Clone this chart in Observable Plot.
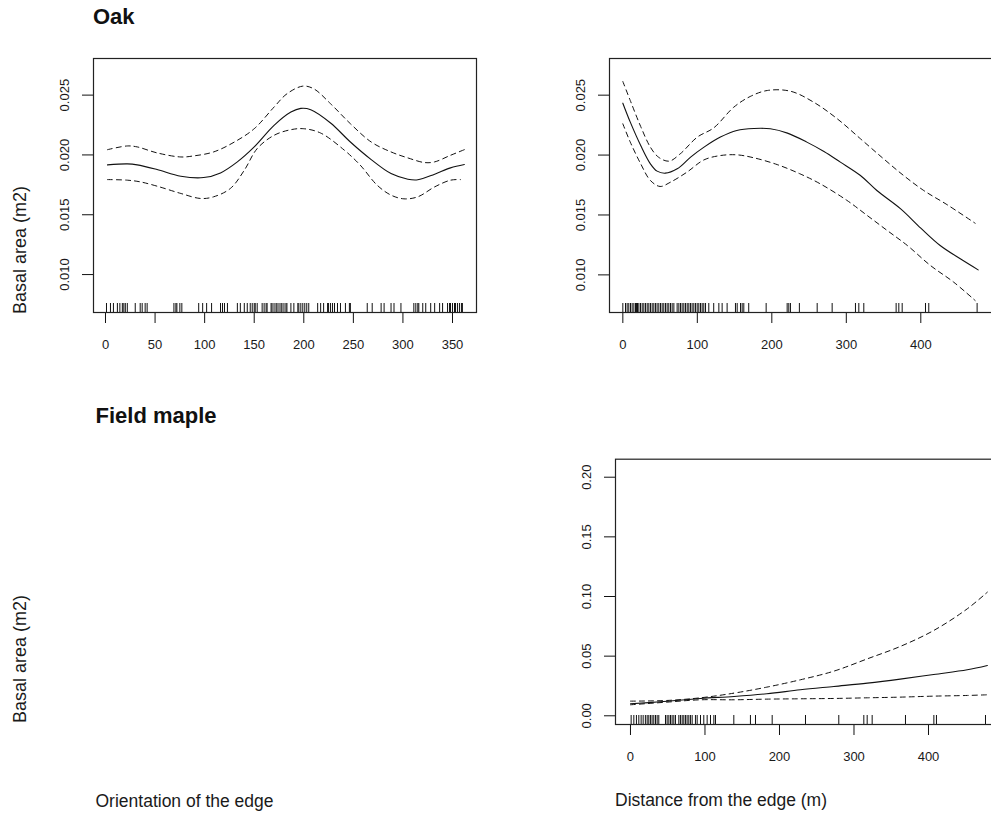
<!DOCTYPE html>
<html>
<head>
<meta charset="utf-8">
<script src="https://cdn.jsdelivr.net/npm/d3@7"></script>
<script src="https://cdn.jsdelivr.net/npm/@observablehq/plot@0.6"></script>
<style>
  html, body { margin: 0; padding: 0; background: #fff; }
  #wrap { position: relative; width: 991px; height: 814px; overflow: hidden; background: #fff;
          font-family: "Liberation Sans", Arial, Helvetica, sans-serif; color: #111; }
  .abs { position: absolute; white-space: nowrap; }
  .title { font-weight: bold; font-size: 22px; line-height: 22px; }
  .xlab { font-size: 17.5px; line-height: 17.5px; color: #1a1a1a; }
  .ylab { font-size: 18px; line-height: 18px; width: 160px; text-align: center; transform: rotate(-90deg); color: #1a1a1a; }
  .panel { position: absolute; }
  .panel svg { max-width: none !important; }
</style>
</head>
<body>
<div id="wrap">
  <div class="abs title" style="left:93px; top:5.5px;">Oak</div>
  <div class="abs title" style="left:95.5px; top:404.8px;">Field maple</div>
  <div class="abs ylab" style="left:-59.7px; top:241px;">Basal area (m2)</div>
  <div class="abs ylab" style="left:-59.7px; top:650px;">Basal area (m2)</div>
  <div class="abs xlab" style="left:95.5px; top:792.7px;">Orientation of the edge</div>
  <div class="abs xlab" style="left:615px; top:792.2px;">Distance from the edge (m)</div>
  <div id="p1" class="panel" style="left:0px; top:0px; width:500px; height:370px;"></div>
  <div id="p2" class="panel" style="left:500px; top:0px; width:500px; height:370px;"></div>
  <div id="p3" class="panel" style="left:500px; top:400px; width:510px; height:414px;"></div>
</div>
<script>
// ---------- tick labels ----------
const orientTicks = [0, 50, 100, 150, 200, 250, 300, 350];
const distTicks = [0, 100, 200, 300, 400];
const oakYTicks = [0.010, 0.015, 0.020, 0.025];
const mapleYTicks = [0.00, 0.05, 0.10, 0.15, 0.20];

// ---------- Oak vs orientation of the edge ----------
const oakOrientFitX = [2, 22, 32, 52, 76, 99, 116, 133, 150, 170, 187, 197, 207, 227, 247, 268, 288, 305, 315, 332, 348, 362];
const oakOrientFitY = [0.01917, 0.01925, 0.01917, 0.01878, 0.01822, 0.01811, 0.0185, 0.01942, 0.02067, 0.02247, 0.02358, 0.02389, 0.02378, 0.02267, 0.02108, 0.01961, 0.01844, 0.01797, 0.01792, 0.01839, 0.01892, 0.0192];
const oakOrientUpX = [2, 22, 32, 52, 76, 89, 109, 130, 150, 170, 183, 199, 210, 227, 247, 268, 288, 305, 322, 332, 348, 362];
const oakOrientUpY = [0.02044, 0.02075, 0.02067, 0.02017, 0.01983, 0.01992, 0.02025, 0.02108, 0.02219, 0.0240, 0.02511, 0.02575, 0.02553, 0.02428, 0.02261, 0.02108, 0.02025, 0.01975, 0.01936, 0.01942, 0.01997, 0.02044];
const oakOrientLoX = [2, 22, 35, 52, 76, 96, 109, 126, 140, 153, 170, 187, 200, 217, 241, 257, 274, 288, 301, 315, 332, 348, 358];
const oakOrientLoY = [0.01794, 0.01789, 0.01775, 0.01739, 0.01678, 0.01636, 0.0165, 0.0172, 0.01872, 0.02053, 0.02164, 0.02211, 0.02219, 0.02183, 0.02039, 0.01914, 0.01747, 0.01664, 0.01633, 0.0165, 0.01733, 0.01789, 0.01794];
const oakOrientRug = [1, 5, 8, 12, 14.5, 17, 18.5, 20, 22, 30, 35, 37, 40, 42, 69, 71, 72, 75, 77, 94, 98, 102, 107,
  116, 118, 120, 123, 133, 136, 140, 143, 146, 148, 150, 151, 153, 158, 160, 162, 163,
  167, 168, 170, 172, 173, 175, 177, 178, 180, 182, 183, 187, 190, 194, 195, 197, 199, 201, 203, 205,
  214, 217, 220, 224, 225, 227, 229, 231, 234, 237, 242, 246, 247, 264, 269, 278, 281, 288, 291, 298,
  311, 313, 315, 316, 320, 323, 328, 332, 337, 340, 345, 347, 348, 350, 352, 353, 355, 357, 359, 360];

// ---------- Oak vs distance from the edge ----------
const oakDistFitX = [0, 10, 24, 37, 46, 57, 73, 91, 109, 131, 153, 176, 198, 221, 247, 270, 292, 319, 341, 373, 400, 426, 453, 477];
const oakDistFitY = [0.02433, 0.02275, 0.0208, 0.01927, 0.01866, 0.01849, 0.01885, 0.01983, 0.02066, 0.0215, 0.02205, 0.02222, 0.02219, 0.02183, 0.02108, 0.0203, 0.01941, 0.01829, 0.01704, 0.01551, 0.0139, 0.01245, 0.01134, 0.01042];
const oakDistUpX = [0, 10, 24, 37, 48, 62, 77, 100, 122, 149, 171, 194, 225, 256, 288, 319, 350, 377, 404, 435, 473];
const oakDistUpY = [0.02614, 0.02455, 0.02238, 0.02066, 0.01982, 0.01949, 0.0201, 0.0215, 0.02227, 0.024, 0.02489, 0.02539, 0.02533, 0.02442, 0.02302, 0.02136, 0.01969, 0.01829, 0.01704, 0.01587, 0.01431];
const oakDistLoX = [0, 10, 24, 37, 50, 64, 86, 109, 131, 153, 176, 207, 238, 265, 301, 328, 355, 382, 413, 444, 473];
const oakDistLoY = [0.02261, 0.02108, 0.01927, 0.01788, 0.01738, 0.01774, 0.01857, 0.0196, 0.01996, 0.02002, 0.01977, 0.01921, 0.01843, 0.0176, 0.01621, 0.01496, 0.0137, 0.01245, 0.01078, 0.0094, 0.00786];
const oakDistRug = [0, 3.6, 5.8, 8, 10.3, 12.5, 14.8, 17, 18.3, 19.7, 21.5, 23.7, 26, 28.2, 30.4, 32.7, 34.9, 37.1, 39.4, 41.6, 43.8,
  46, 48.3, 50.6, 52.8, 55, 57.3, 59.5, 61.7, 64, 66.2, 68.5, 72.9, 75.2, 77.4, 79.6, 81.9, 84.1, 86.4, 88.6, 90.8, 93, 95.3,
  97.5, 99.8, 102, 104.3, 106.5, 108.7, 111, 115.4, 122, 128.9, 133.3, 140, 151.2, 153.5, 158, 160.2, 162.4, 169, 192.4,
  220.6, 222.8, 225, 237, 260.9, 281, 312.3, 316.8, 323.5, 366.9, 370.5, 375, 406.3, 410.7, 475.6];

// ---------- Field maple vs distance from the edge ----------
const mapleDistFitX = [0, 40, 94, 139, 183, 228, 273, 318, 362, 407, 452, 479];
const mapleDistFitY = [0.01006, 0.01173, 0.01453, 0.0162, 0.01844, 0.02179, 0.02458, 0.02737, 0.03073, 0.03464, 0.03855, 0.04218];
const mapleDistUpX = [0, 49, 94, 139, 183, 228, 273, 318, 362, 407, 452, 479];
const mapleDistUpY = [0.01229, 0.01285, 0.01508, 0.019, 0.02402, 0.03017, 0.03743, 0.04777, 0.0581, 0.07151, 0.08966, 0.10363];
const mapleDistLoX = [0, 49, 94, 139, 183, 228, 273, 318, 362, 407, 452, 479];
const mapleDistLoY = [0.00922, 0.01145, 0.01341, 0.01341, 0.01397, 0.01425, 0.01453, 0.01508, 0.01564, 0.01648, 0.01704, 0.0176];
const mapleDistRug = [0.9, 4.5, 8, 11.2, 14.3, 17, 20, 22.4, 24.6, 26.8, 29, 31.3, 33.6, 35.8, 38, 47, 49.2, 51.5, 53.7, 55.9, 58.2,
  60.4, 64.9, 67.1, 69.4, 71.6, 73.8, 76, 78.3, 80.5, 82.8, 87.2, 89.5, 94, 98.4, 102.9, 107.4, 111.9, 114.1, 138.7, 161,
  167.8, 190.2, 234.9, 279.6, 313.2, 317.7, 324.4, 369.1, 407.2, 410.7, 476.5];

const pts = (xs, ys) => xs.map((x, i) => ({x, y: ys[i]}));

function panel(o) {
  const innerH = o.height - o.mt - o.mb;
  return Plot.plot({
    width: o.width, height: o.height,
    marginLeft: o.ml, marginRight: o.mr, marginTop: o.mt, marginBottom: o.mb,
    x: {domain: o.xDomain},
    y: {domain: o.yDomain},
    style: {fontFamily: "'Liberation Sans', Arial, sans-serif", fontSize: "13px", color: "#1a1a1a", background: "transparent", overflow: "visible", maxWidth: "none"},
    marks: [
      Plot.ruleX(o.rug, {x: d => d, insetTop: innerH - 9, stroke: "#111", strokeWidth: 1}),
      Plot.line(o.up, {x: "x", y: "y", curve: "catmull-rom", stroke: "#111", strokeWidth: 1, strokeDasharray: "5,4"}),
      Plot.line(o.lo, {x: "x", y: "y", curve: "catmull-rom", stroke: "#111", strokeWidth: 1, strokeDasharray: "5,4"}),
      Plot.line(o.fit, {x: "x", y: "y", curve: "catmull-rom", stroke: "#111", strokeWidth: 1.1}),
      Plot.axisX({ticks: o.xTicks, tickSize: 11, tickPadding: 16, label: null, tickFormat: d => String(d), stroke: "#111"}),
      Plot.axisY({ticks: o.yTicks, tickSize: 11, tickPadding: 14, tickRotate: -90, label: null, tickFormat: o.yFmt, stroke: "#111"}),
      Plot.frame({stroke: "#222", strokeWidth: 1.2})
    ]
  });
}

document.getElementById("p1").appendChild(panel({
  width: 500, height: 370, ml: 93, mr: 24, mt: 58, mb: 58,
  xDomain: [-12.1, 374.2], yDomain: [0.00683, 0.02806],
  xTicks: orientTicks, yTicks: oakYTicks, yFmt: d => d.toFixed(3),
  fit: pts(oakOrientFitX, oakOrientFitY), up: pts(oakOrientUpX, oakOrientUpY), lo: pts(oakOrientLoX, oakOrientLoY),
  rug: oakOrientRug
}));

document.getElementById("p2").appendChild(panel({
  width: 500, height: 370, ml: 109, mr: 7, mt: 58, mb: 58,
  xDomain: [-17.9, 497.6], yDomain: [0.00686, 0.02806],
  xTicks: distTicks, yTicks: oakYTicks, yFmt: d => d.toFixed(3),
  fit: pts(oakDistFitX, oakDistFitY), up: pts(oakDistUpX, oakDistUpY), lo: pts(oakDistLoX, oakDistLoY),
  rug: oakDistRug
}));

document.getElementById("p3").appendChild(panel({
  width: 510, height: 414, ml: 115, mr: 11, mt: 58.7, mb: 90,
  xDomain: [-20.1, 495.3], yDomain: [-0.0073, 0.2151],
  xTicks: distTicks, yTicks: mapleYTicks, yFmt: d => d.toFixed(2),
  fit: pts(mapleDistFitX, mapleDistFitY), up: pts(mapleDistUpX, mapleDistUpY), lo: pts(mapleDistLoX, mapleDistLoY),
  rug: mapleDistRug
}));
</script>
</body>
</html>
